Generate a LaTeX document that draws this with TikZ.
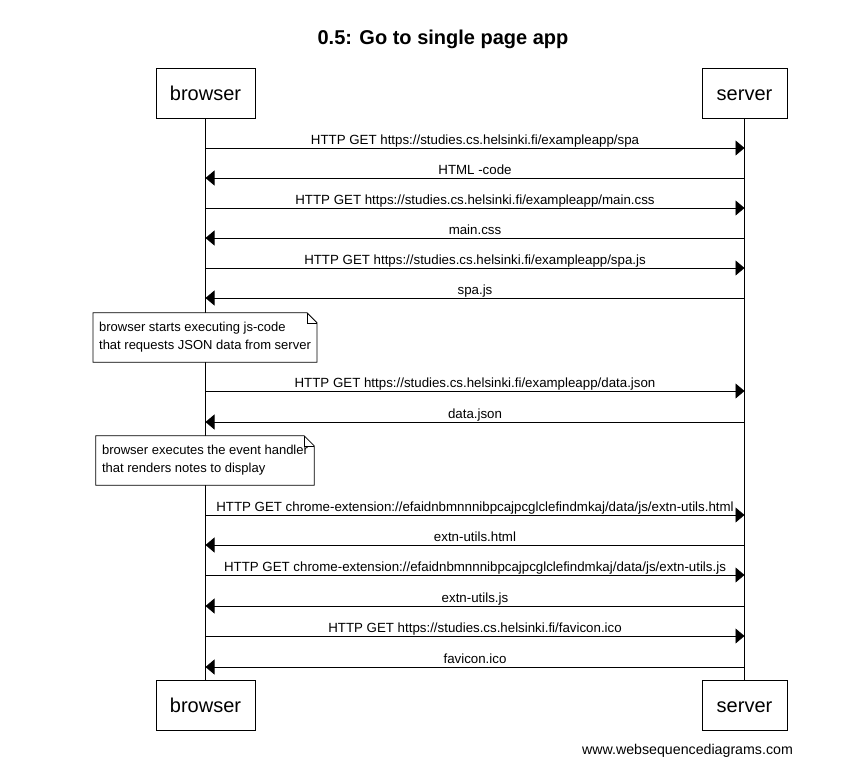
\documentclass[tikz,border=0pt]{standalone}
\usepackage{fontspec}
\setmainfont{Liberation Sans}
\usetikzlibrary{arrows.meta}
\begin{document}
\begin{tikzpicture}[x=1pt,y=-1pt,
  actor/.style={draw, line width=0.8pt, minimum height=50pt, inner sep=0pt, fill=white, text height=14.5pt, text depth=0pt, font=\fontsize{20}{24}\selectfont},
  life/.style={line width=0.8pt},
  msg/.style={line width=0.8pt, -{Triangle[length=9pt,width=15pt]}},
  lbl/.style={anchor=base, yshift=3.5pt, inner sep=0pt, font=\fontsize{13.3}{15}\selectfont},
  notetext/.style={align=left, inner xsep=6pt, inner ysep=6pt, font=\fontsize{13}{18}\selectfont, minimum height=49pt},
  notebox/.style={draw, fill=white, line width=0.8pt},
]
\useasboundingbox (0,0) rectangle (865,772);
\node[font=\bfseries\fontsize{20}{24}\selectfont] (title) at (443,39) {0.5: Go to single page app};

\node[actor, minimum width=99pt] (bt) at (205.5,93) {browser};
\node[actor, minimum width=85pt] (st) at (744.5,93) {server};
\node[actor, minimum width=99pt] (bb) at (205.5,705) {browser};
\node[actor, minimum width=85pt] (sb) at (744.5,705) {server};
\draw[life] (bt) -- (bb);
\draw[life] (st) -- (sb);

\foreach \i/\y in {1/148,2/178,3/208,4/238,5/268,6/298,7/391,8/422,9/515,10/545,11/575,12/606,13/636,14/667} {
  \coordinate (b\i) at (205.5,\y);
  \coordinate (s\i) at (744.5,\y);
}
\draw[msg] (b1) -- node[lbl] {HTTP GET https://studies.cs.helsinki.fi/exampleapp/spa} (s1);
\draw[msg] (s2) -- node[lbl] {HTML -code} (b2);
\draw[msg] (b3) -- node[lbl] {HTTP GET https://studies.cs.helsinki.fi/exampleapp/main.css} (s3);
\draw[msg] (s4) -- node[lbl] {main.css} (b4);
\draw[msg] (b5) -- node[lbl] {HTTP GET https://studies.cs.helsinki.fi/exampleapp/spa.js} (s5);
\draw[msg] (s6) -- node[lbl] {spa.js} (b6);
\draw[msg] (b7) -- node[lbl] {HTTP GET https://studies.cs.helsinki.fi/exampleapp/data.json} (s7);
\draw[msg] (s8) -- node[lbl] {data.json} (b8);
\draw[msg] (b9) -- node[lbl] {HTTP GET chrome-extension://efaidnbmnnnibpcajpcglclefindmkaj/data/js/extn-utils.html} (s9);
\draw[msg] (s10) -- node[lbl] {extn-utils.html} (b10);
\draw[msg] (b11) -- node[lbl] {HTTP GET chrome-extension://efaidnbmnnnibpcajpcglclefindmkaj/data/js/extn-utils.js} (s11);
\draw[msg] (s12) -- node[lbl] {extn-utils.js} (b12);
\draw[msg] (b13) -- node[lbl] {HTTP GET https://studies.cs.helsinki.fi/favicon.ico} (s13);
\draw[msg] (s14) -- node[lbl] {favicon.ico} (b14);

% note 1
\node[notetext] (n1) at (205,337.5) {browser starts executing js-code\\that requests JSON data from server};
\fill[white] (n1.north west) rectangle (n1.south east);
\draw[notebox] (n1.north west) -- ([xshift=-10pt]n1.north east) -- ([yshift=-10pt]n1.north east) -- (n1.south east) -- (n1.south west) -- cycle;
\draw[line width=0.6pt] ([xshift=-10pt]n1.north east) -- ([xshift=-10pt,yshift=-10pt]n1.north east) -- ([yshift=-10pt]n1.north east);
\node[notetext] at (n1) {browser starts executing js-code\\that requests JSON data from server};

% note 2
\node[notetext] (n2) at (205,460.5) {browser executes the event handler\\that renders notes to display};
\fill[white] (n2.north west) rectangle (n2.south east);
\draw[notebox] (n2.north west) -- ([xshift=-10pt]n2.north east) -- ([yshift=-10pt]n2.north east) -- (n2.south east) -- (n2.south west) -- cycle;
\draw[line width=0.6pt] ([xshift=-10pt]n2.north east) -- ([xshift=-10pt,yshift=-10pt]n2.north east) -- ([yshift=-10pt]n2.north east);
\node[notetext] at (n2) {browser executes the event handler\\that renders notes to display};

\node[anchor=base, inner sep=0pt, font=\fontsize{14.2}{16}\selectfont] (footer) at (687.5,754) {www.websequencediagrams.com};
\end{tikzpicture}
\end{document}
